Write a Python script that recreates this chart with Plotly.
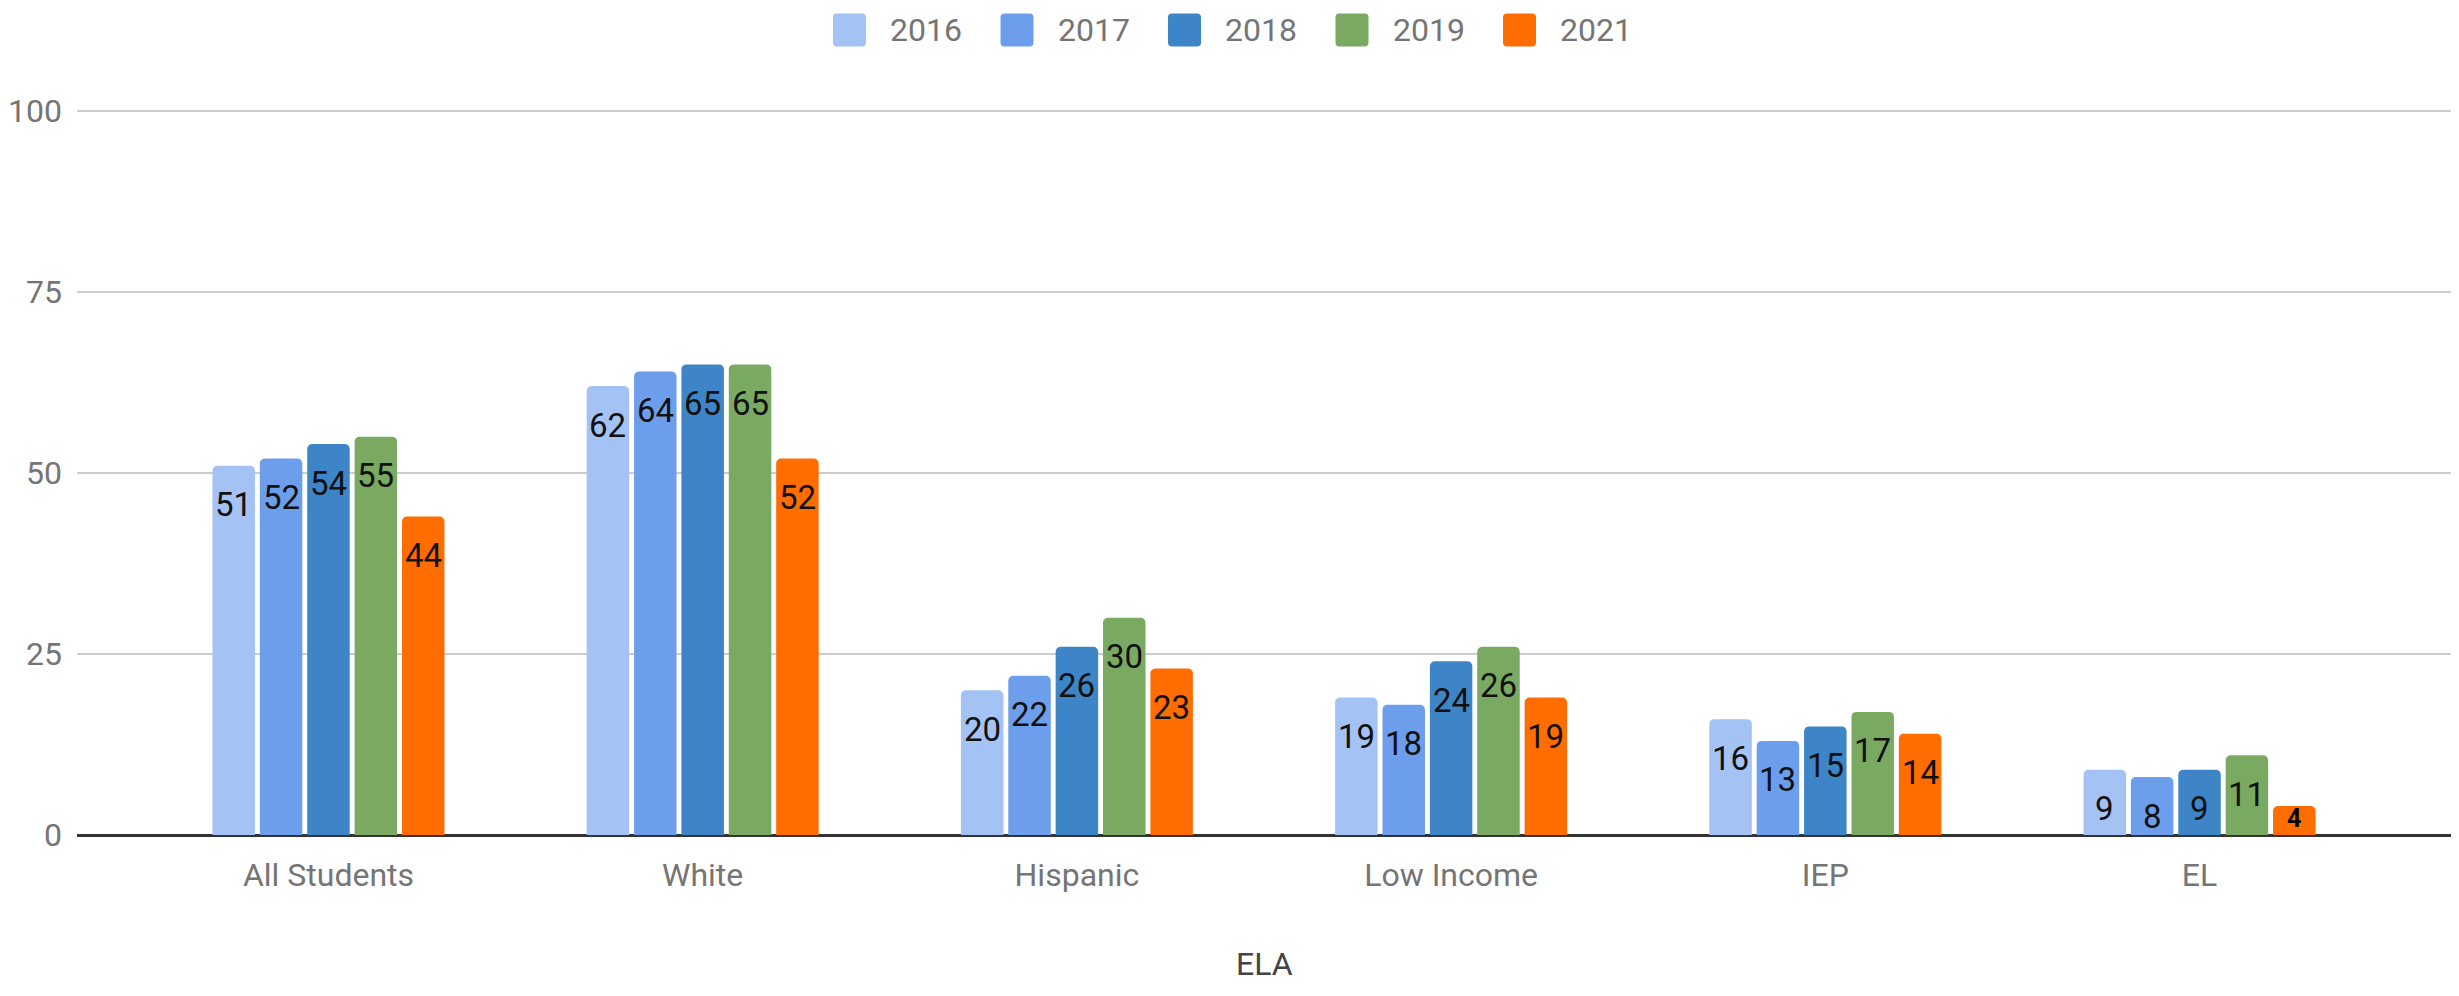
import plotly.graph_objects as go

# ---- data ----
categories = ["All Students", "White", "Hispanic", "Low Income", "IEP", "EL"]
years = ["2016", "2017", "2018", "2019", "2021"]
v2016 = [51, 62, 20, 19, 16, 9]
v2017 = [52, 64, 22, 18, 13, 8]
v2018 = [54, 65, 26, 24, 15, 9]
v2019 = [55, 65, 30, 26, 17, 11]
v2021 = [44, 52, 23, 19, 14, 4]
y_ticks = [0, 25, 50, 75, 100]
x_title = "ELA"

series = [v2016, v2017, v2018, v2019, v2021]
colors = ["#a4c2f4", "#6d9eeb", "#3d85c6", "#7aaa61", "#ff6d01"]

# ---- layout geometry (page has an 8px body margin) ----
OFF = 8
W, H = 2459 - 2 * OFF, 996 - 2 * OFF
L, R, T, B = 69, 0, 100, 153
plot_w = W - L - R
plot_h = H - T - B
y_top = 100.41
ppu = plot_h / y_top
bargap = 0.367
bargroupgap = 0.103
FONT = "Roboto"
GRAY = "#757575"

fig = go.Figure()
for name, vals, col in zip(years, series, colors):
    fig.add_trace(go.Bar(
        x=categories, y=vals, name=name,
        marker=dict(color=col, line=dict(width=0)),
        showlegend=False, hoverinfo="x+y+name",
    ))

# value labels inside bars (near the top)
slot = (1 - bargap) / len(years)
for j, vals in enumerate(series):
    for i, v in enumerate(vals):
        xc = i + (j - (len(years) - 1) / 2) * slot
        if v * ppu >= 40:
            fig.add_annotation(x=xc, y=v, text=str(v), showarrow=False,
                               yanchor="middle", yshift=-39,
                               font=dict(family=FONT, size=33, color="#111111"))
        else:
            fig.add_annotation(x=xc, y=v / 2, text=f"<b>{v}</b>", showarrow=False,
                               yanchor="middle", yshift=2,
                               font=dict(family=FONT, size=25, color="#000000"))

# page-pixel helpers
def xp(px):
    return (px - OFF - L) / plot_w

def yp(py):
    return (OFF + T + plot_h - py) / plot_h

# legend (drawn as shapes + text, centered at top)
leg_x0 = 833
leg_pitch = 167.5
leg_y = 30
sq = 33
r = 4
path = (f"M {r},{-sq/2} L {sq-r},{-sq/2} Q {sq},{-sq/2} {sq},{-sq/2+r} "
        f"L {sq},{sq/2-r} Q {sq},{sq/2} {sq-r},{sq/2} L {r},{sq/2} "
        f"Q 0,{sq/2} 0,{sq/2-r} L 0,{-sq/2+r} Q 0,{-sq/2} {r},{-sq/2} Z")
for k, (name, col) in enumerate(zip(years, colors)):
    x0 = leg_x0 + k * leg_pitch
    fig.add_shape(type="path", xref="paper", yref="paper",
                  xsizemode="pixel", ysizemode="pixel",
                  xanchor=xp(x0), yanchor=yp(leg_y), path=path,
                  fillcolor=col, line=dict(width=0))
    fig.add_annotation(x=xp(x0 + sq + 22), y=yp(leg_y), xref="paper", yref="paper",
                       text=name, showarrow=False, xanchor="left", yanchor="middle",
                       font=dict(family=FONT, size=32, color=GRAY))

# x-axis title
fig.add_annotation(x=0.5, y=yp(964), xref="paper", yref="paper", text=x_title,
                   showarrow=False, xanchor="center", yanchor="middle",
                   font=dict(family=FONT, size=32, color="#444444"))

fig.update_layout(
    width=W, height=H,
    margin=dict(l=L, r=R, t=T, b=B, pad=0),
    barmode="group", bargap=bargap, bargroupgap=bargroupgap,
    barcornerradius=5,
    plot_bgcolor="white", paper_bgcolor="white",
    font=dict(family=FONT, size=32, color=GRAY),
    showlegend=False,
)
fig.update_xaxes(
    range=[-0.672, 5.672], showgrid=False, zeroline=False, showline=False,
    ticks="", ticklabelstandoff=18,
    tickfont=dict(family=FONT, size=32, color=GRAY),
    automargin=False,
)
fig.update_yaxes(
    range=[0, y_top], tickvals=y_ticks, ticks="", ticklabelstandoff=14,
    showgrid=True, gridcolor="#cccccc", gridwidth=2,
    zeroline=True, zerolinecolor="#333333", zerolinewidth=3,
    showline=False,
    tickfont=dict(family=FONT, size=32, color=GRAY),
    automargin=False,
)

fig.write_html("out.html")
